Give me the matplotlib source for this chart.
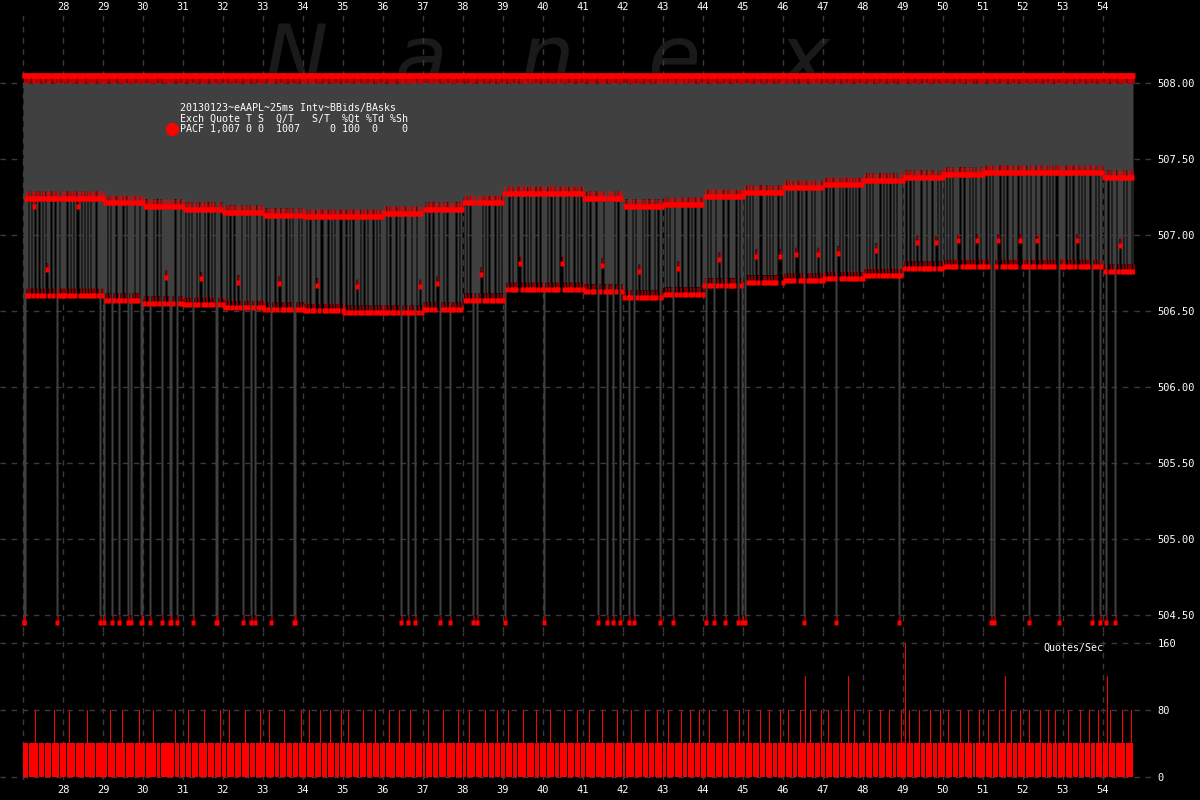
import matplotlib
matplotlib.use("Agg")
import matplotlib.pyplot as plt
from matplotlib.path import Path
from matplotlib.transforms import blended_transform_factory

plt.rcParams["font.family"] = ["DejaVu Sans Mono"]

# one string per second of the window, one character per 25 ms interval
#   '-' quote, bid at the upper level     'l' quote, bid at the lower level
#   'm' quote, bid between the two        'd' quote, bid drops to 504.50
#   '=' two quotes, upper bid             '3' / '4' three / four quotes, upper bid
#   'v' quote, bid just under the upper   '.' no quote in this interval
seconds = list(range(27, 55))
quote_pattern = [
    "dd-l-.l--l" "v-=l-.-l--" "l.-m-l--.l" "-=-dl-.l-l",  # 27
    "-l-.-l=-l-" "-l.-v-l--l" "-.l-=l--l-" "l-.-l-d-l-",  # 28
    "d-l-.l-=d-" "l-.-ld-l-=" "-l.-d-ld-l" "-.l-l-=dd-",  # 29
    "l-.-l-d-l-" "=l-.-l-.d-" "l-m-l-dd-l" "-.=d-l.-l-",  # 30
    "l-.l-=l-.d" "-l--l.-m-l" "-=l-.-l--l" "-.dd-l-=.l",  # 31
    "-l-.l-=-l-" "-.l-m-l-.d" "-l=-l-.d-l" "-d.-l-l=-l",  # 32
    "l-.-l-=d-l" "-.-l-m.-l-" "l=-.l--l-." "dd-l-.l-=l",  # 33
    "-l-.l-=-l-" "l.-m-l-=.-" "l-l-.-l=-l" "-.l-l-.-=l",  # 34
    "l-.-l=-l-." "-l-m-l.-l-" "=-l.-l-l-." "-l=-l-.l-l",  # 35
    "-l.-l-=-l-" "l-.-l-=d-l" "-.-ld-l=-l" "-d.-l-m-l.",  # 36
    "l-.l-=-l-." "-l-m-.d-l-" "=l-.-ld-l-" "l-.-l=-l-.",  # 37
    "-l-.l-=-ld" "-l.d-l-m-." "l-=l-.-l-l" "-.-l=-l.-l",  # 38
    "-d.l-=-l-." "l-l-.-m-l-" "=-l.-l--l-" "l.-=l-.-l-",  # 39
    "d-l.-l-=-l" "-.l-l-.-m-" "l=-l.-l-l-" "-.l-=l-.-l",  # 40
    "-l.-l-=-l-" "l-.-d-l-m=" "-l.d-l-l-d" "-.l-=-d-l.",  # 41
    "l-.-ld-l=-" "d.-l-m-l-." "l-=l-.-l-l" "-.l-=-dl-.",  # 42
    "-l-.l=-l-d" "-.l-m-l-=." "l-l-.-l=-l" "-.-l-l=.-l",  # 43
    "l-d.-l=-l-" "d-.l-m-l-." "-dl-=.l-l-" "l-.-d-=ld-",  # 44
    "-d.-l=-l-." "l-m-l-.=-l" "-l.-l-=l-." "l-l-.-m=-l",  # 45
    "-l.-l=-l-." "l-m-.-l=-l" "d-3.l-l=-l" "-.l-m-l.=l",  # 46
    "l-.-l=-l-." "-ld-m-.l=-" "l-.-l3-l-." "l=-l-.-l-l",  # 47
    "-l.-l-=l-." "l-m-l.-=l-" "-l.-l-=-l." "-l-.ld-l=-",  # 48
    "l-4.l-=-l-" ".l-m-l=.-l" "-l.-l-l=-." "l-m-.l-=l-",  # 49
    "-l.-l=-l-." "l-l-m.-=l-" "-.l-l=-l-." "l-.m-l=-l-",  # 50
    "l-.-l=-d-." "d-l-m.=-l-" "-l3.-l-l=." "l-l-.-m=-l",  # 51
    "-l.-ld=-l-" "l.-m-l-=.l" "-l-.l=-l-." "l-=-.d-l-l",  # 52
    "l-.-l=-l-." "-l-m-.l=-l" "-.l-l-=.d-" "l-.l-=dl-.",  # 53
    "-ld-3.l=-l" "-d.-l-m-l=" "-l.-l-l-=l",               # 54
]

# bid levels for each second
upper_bid = [507.29, 507.29, 507.26, 507.24, 507.22, 507.20, 507.18, 507.17,
             507.17, 507.19, 507.22, 507.26, 507.32, 507.32, 507.29, 507.24,
             507.25, 507.30, 507.33, 507.36, 507.38, 507.41, 507.43, 507.45,
             507.46, 507.46, 507.46, 507.43]
lower_bid = [506.65, 506.65, 506.62, 506.60, 506.59, 506.57, 506.56, 506.55,
             506.54, 506.54, 506.56, 506.62, 506.69, 506.69, 506.68, 506.64,
             506.66, 506.72, 506.74, 506.75, 506.76, 506.78, 506.83, 506.84,
             506.84, 506.84, 506.84, 506.81]
mid_step = 0.17
ask_price = 508.00
drop_price = 504.50
interval = 0.025

price_ticks = [504.5, 505.0, 505.5, 506.0, 506.5, 507.0, 507.5, 508.0]
rate_ticks = [0, 80, 160]
legend_lines = ["20130123~eAAPL~25ms Intv~BBids/BAsks",
                "Exch Quote T S  Q/T   S/T  %Qt %Td %Sh",
                "PACF 1,007 0 0  1007     0 100  0    0"]
watermark = ["N", "a", "n", "e", "x"]

# expand the pattern into intervals
times, bids, counts = [], [], []
bid = upper_bid[0]
for sec, row, up, low in zip(seconds, quote_pattern, upper_bid, lower_bid):
    levels = {"-": up, "=": up, "3": up, "4": up, "v": up - 0.05,
              "l": low, "m": low + mid_step, "d": drop_price}
    for j, ch in enumerate(row):
        if ch != ".":
            bid = levels[ch]
        times.append(sec + j * interval)
        bids.append(bid)
        counts.append(0 if ch == "." else {"=": 2, "3": 3, "4": 4}.get(ch, 1))

q_t = [t + interval / 2 for t, c in zip(times, counts) if c > 0]
q_bid = [b for b, c in zip(bids, counts) if c > 0]
q_ask = [ask_price] * len(q_t)

# each quote's spread line is drawn two intervals wide
spread_low = list(bids)
for i in range(1, len(bids)):
    if counts[i - 1] > 0:
        spread_low[i] = min(spread_low[i], bids[i - 1])

# quote markers: a small block hanging off a thin stem, stem tip on the price
bid_pin = Path([(-0.5, 0), (0.5, 0), (0.5, -5), (2, -5), (2, -10), (-2, -10),
                (-2, -5), (-0.5, -5), (-0.5, 0)], closed=True)
ask_pin = Path([(-0.5, 0), (0.5, 0), (0.5, 5), (2, 5), (2, 10), (-2, 10),
                (-2, 5), (-0.5, 5), (-0.5, 0)], closed=True)

RED = "#ff0000"
GRAY = "#404040"
GRID = "#3a3a3a"
dash = (0, (4, 4))

fig = plt.figure(figsize=(12, 8), dpi=100, facecolor="black")
ax = fig.add_axes([0, 0.21, 0.945, 0.77375], facecolor="black")
ax2 = fig.add_axes([0, 0.025, 0.945, 0.185], facecolor="black")

for a in (ax, ax2):
    a.set_xlim(26.425, 54.775)
    a.set_xticks(seconds)
    a.set_xticklabels([""] + [str(s) for s in seconds[1:]])
    a.grid(True, color=GRID, ls=dash, lw=1)
    a.set_axisbelow(True)
    a.yaxis.tick_right()
    a.tick_params(length=0, labelcolor="white")
    a.tick_params(axis="y", pad=17, labelsize=7.5)
    a.tick_params(axis="x", labelsize=7.5)
    for sp in a.spines.values():
        sp.set_visible(False)

# main panel
ax.set_ylim(504.388, 508.4605)
ax.set_yticks(price_ticks)
ax.set_yticklabels(["%.2f" % v for v in price_ticks])
ax.xaxis.tick_top()
ax.tick_params(axis="x", pad=1)

for ch, xp in zip(watermark, [296, 421, 547, 674, 804]):
    ax.text(xp / 1200, 1 - 86 / 800, ch, transform=fig.transFigure,
            fontsize=62, family="DejaVu Sans", style="italic",
            color="#1a1a1a", ha="center", va="baseline", zorder=0.4)

edges = times + [times[-1] + interval]
ax.fill_between(edges, spread_low + [spread_low[-1]], ask_price, step="post",
                color=GRAY, lw=0, zorder=2)
ax.plot(q_t, q_bid, ls="none", marker=bid_pin, ms=14.4, mfc=RED, mec="none",
        zorder=3)
ax.plot(q_t, q_ask, ls="none", marker=ask_pin, ms=14.4, mfc=RED, mec="none",
        zorder=3, clip_on=False)

trans = blended_transform_factory(ax.transAxes, ax.transData)
for v in price_ticks:
    ax.plot([1.0, 1155 / 1134], [v, v], transform=trans, color=GRID, ls=dash,
            lw=1, clip_on=False)

for k, line in enumerate(legend_lines):
    fig.text(180 / 1200, 1 - (108 + 10.7 * k) / 800, line, color="white",
             fontsize=7.2, va="center", ha="left", zorder=6)
ax.plot([172 / 1200], [1 - 129 / 800], "o", color=RED, ms=8.6,
        transform=fig.transFigure, clip_on=False, zorder=6)

# quotes per second panel
ax2.set_ylim(-3.58, 173.1)
ax2.set_yticks(rate_ticks)
ax2.set_yticklabels([str(v) for v in rate_ticks])
ax2.bar(times, [c * 40 for c in counts], width=interval, align="edge",
        color=RED, lw=0, antialiased=False, zorder=2)
trans2 = blended_transform_factory(ax2.transAxes, ax2.transData)
for v in rate_ticks:
    ax2.plot([1.0, 1155 / 1134], [v, v], transform=trans2, color=GRID,
             ls=dash, lw=1, clip_on=False)
fig.text(1043 / 1200, 1 - 648 / 800, "Quotes/Sec", color="white",
         fontsize=7.2, va="center", ha="left")

fig.savefig("out.png", dpi=100, facecolor="black")
